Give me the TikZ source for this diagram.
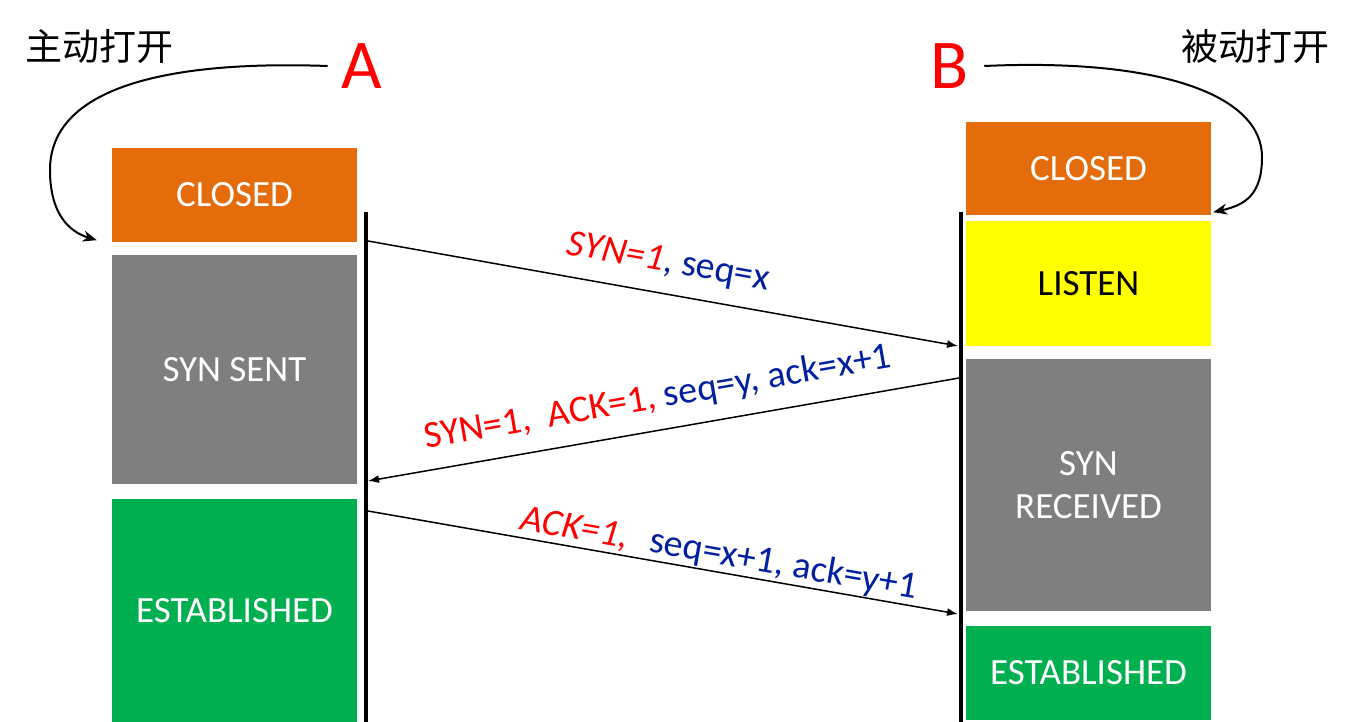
\documentclass[tikz,border=0pt]{standalone}
\usepackage{fontspec}
\setmainfont{Carlito}
\newfontfamily\cjk{Noto Sans CJK SC}
\usetikzlibrary{arrows.meta}
\definecolor{stateorange}{RGB}{228,108,10}
\definecolor{stategray}{RGB}{127,127,127}
\definecolor{stategreen}{RGB}{0,176,80}
\definecolor{stateyellow}{RGB}{255,255,0}
\definecolor{flagred}{RGB}{255,0,0}
\definecolor{seqblue}{RGB}{0,32,160}
\begin{document}
\begin{tikzpicture}[x=1pt,y=-1pt,
 state/.style={minimum width=245pt,inner sep=0pt,text=white,align=center,font=\fontsize{37}{43}\selectfont},
 lifeline/.style={line width=4.5pt},
 msg/.style={line width=1.5pt,-{Latex[length=11pt,width=8pt]}},
 turn/.style={line width=2pt,-{Stealth[length=14pt,width=11pt]}},
 lbl/.style={sloped,inner sep=0pt,font=\fontsize{38}{42}\selectfont},
 host/.style={text=flagred,inner sep=0pt,font=\fontsize{70}{70}\selectfont},
 opentag/.style={inner sep=0pt,font=\cjk\fontsize{37}{40}\selectfont}]
\useasboundingbox (0,0) rectangle (1354,722);
\node[state,fill=stateorange,minimum height=94pt] (aclosed) at (234.5,195) {CLOSED};
\node[state,fill=stategray,minimum height=229pt] (asynsent) at (234.5,369.5) {SYN SENT};
\node[state,fill=stategreen,minimum height=223pt] (aest) at (234.5,610.5) {ESTABLISHED};
\node[state,fill=stateorange,minimum height=93pt] (bclosed) at (1088.5,168.5) {CLOSED};
\node[state,fill=stateyellow,text=black,minimum height=125pt] (blisten) at (1088.5,283.5) {LISTEN};
\node[state,fill=stategray,minimum height=252pt] (bsynrcvd) at (1088.5,485) {SYN\\RECEIVED};
\node[state,fill=stategreen,minimum height=94pt] (best) at (1088.5,673) {ESTABLISHED};
\node[host] (A) at (362,66) {A};
\node[host] (B) at (950,66) {B};
\node[opentag] (aopen) at (99,47) {主动打开};
\node[opentag] (bopen) at (1255,47) {被动打开};
\draw[turn] ([xshift=-14pt]A.west) .. controls (160,60) and (50,90) .. (50,170)
 .. controls (50,215) and (70,232) .. ([xshift=-15pt,yshift=2pt]aclosed.south west);
\draw[turn] ([xshift=15pt]B.east) .. controls (1160,58) and (1262,95) .. (1262,157)
 .. controls (1262,195) and (1245,205) .. ([xshift=2pt,yshift=3pt]bclosed.south east);
\coordinate (atop) at (366,212);
\coordinate (abot) at (366,722);
\coordinate (btop) at (961,212);
\coordinate (bbot) at (961,722);
\draw[lifeline] (atop) -- (abot);
\draw[lifeline] (btop) -- (bbot);
\coordinate (a1) at (368,241);
\coordinate (b1) at (958,346);
\coordinate (b2) at (959,378);
\coordinate (a2) at (368,481);
\coordinate (a3) at (368,511);
\coordinate (b3) at (958,614);
\draw[msg] (a1) -- node[lbl,above=15pt] {\color{flagred}\itshape SYN=1\color{seqblue}\upshape, seq=x} (b1);
\draw[msg] (b2) -- node[lbl,above=15pt] {\color{flagred}SYN=1,~~ACK=1, \color{seqblue}seq=y, ack=x+1} (a2);
\draw[msg] (a3) -- node[lbl,pos=0.59,above=1pt] {\color{flagred}\itshape ACK=1,\hspace{22pt}\color{seqblue}\upshape seq=x+1, ack=y+1} (b3);
\end{tikzpicture}
\end{document}
